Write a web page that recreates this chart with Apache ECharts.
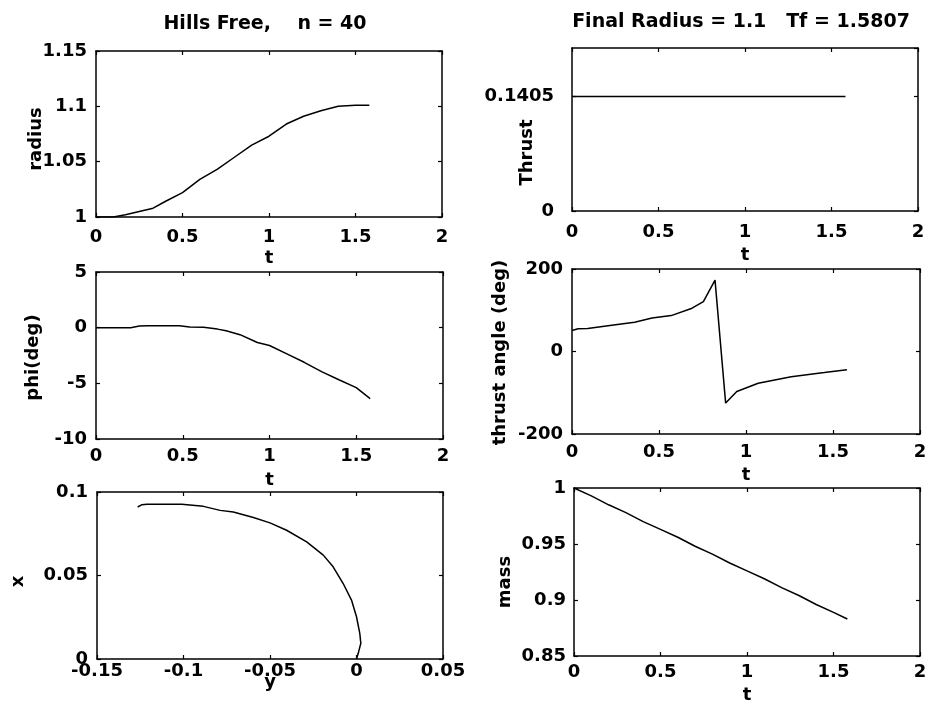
<!DOCTYPE html>
<html><head><meta charset="utf-8">
<script src="https://cdn.jsdelivr.net/npm/echarts@6/dist/echarts.min.js"></script>
<style>html,body{margin:0;padding:0;background:#fff}#c{width:930px;height:713px}</style>
</head><body><div id="c"></div>
<script>
// ---- data ----
const radiusT = [0, 0.1, 0.17, 0.25, 0.33, 0.4, 0.5, 0.6, 0.7, 0.8, 0.9, 1.0, 1.1, 1.2, 1.3, 1.4, 1.5, 1.58];
const radiusVals = [1.000, 1.000, 1.002, 1.005, 1.008, 1.014, 1.022, 1.034, 1.043, 1.054, 1.065, 1.073, 1.084, 1.091, 1.096, 1.100, 1.101, 1.101];

const thrustT = [0, 1.5807];
const thrustVals = [0.1405, 0.1405];

const phiT = [0, 0.2, 0.25, 0.3, 0.4, 0.48, 0.54, 0.62, 0.7, 0.75, 0.83, 0.93, 1.0, 1.1, 1.2, 1.3, 1.4, 1.5, 1.58];
const phiVals = [0, 0, 0.15, 0.18, 0.18, 0.18, 0.05, 0.03, -0.13, -0.28, -0.63, -1.33, -1.6, -2.35, -3.11, -3.95, -4.68, -5.39, -6.38];

const angleT = [0, 0.035, 0.09, 0.25, 0.36, 0.46, 0.57, 0.69, 0.755, 0.822, 0.883, 0.947, 1.07, 1.26, 1.45, 1.58];
const angleVals = [51, 55, 56, 65, 71, 81, 87, 105, 121, 173, -125, -97, -77, -61, -51, -44];

const orbitY = [0.0, 0.001, 0.0025, 0.0019, 0.0, -0.0029, -0.0077, -0.0135, -0.0192, -0.0288, -0.0404, -0.05, -0.0596, -0.0712, -0.0788, -0.0885, -0.101, -0.1212, -0.124, -0.1265];
const orbitX = [0.0, 0.0034, 0.0094, 0.0153, 0.0253, 0.0353, 0.0452, 0.0552, 0.0622, 0.0701, 0.0771, 0.0815, 0.0847, 0.088, 0.089, 0.0914, 0.0926, 0.0926, 0.0924, 0.0910];

const massT = [0, 0.1, 0.2, 0.3, 0.4, 0.5, 0.6, 0.7, 0.8, 0.9, 1.0, 1.1, 1.2, 1.3, 1.4, 1.5, 1.58];
const massVals = [1.000, 0.993, 0.985, 0.978, 0.970, 0.963, 0.956, 0.948, 0.941, 0.933, 0.926, 0.919, 0.911, 0.904, 0.896, 0.889, 0.883];

const titleLeft = 'Hills Free,    n = 40';
const titleRight = 'Final Radius = 1.1   Tf = 1.5807';

// ---- layout ----
const FONT = 'DejaVu Sans';
const grids = [
  {left: 96, top: 51, width: 346, height: 166},
  {left: 572, top: 48, width: 346, height: 163},
  {left: 96, top: 272, width: 347, height: 167},
  {left: 572, top: 269, width: 348, height: 165},
  {left: 97, top: 492, width: 346, height: 167},
  {left: 574, top: 488, width: 346, height: 168}
];
const xSpecs = [
  {min: 0, max: 2, interval: 0.5, name: 't', margin: 11, gap: 32},
  {min: 0, max: 2, interval: 0.5, name: 't', margin: 12, gap: 35},
  {min: 0, max: 2, interval: 0.5, name: 't', margin: 8, gap: 32},
  {min: 0, max: 2, interval: 0.5, name: 't', margin: 9, gap: 32},
  {min: -0.15, max: 0.05, interval: 0.05, name: 'y', margin: 3, gap: 14},
  {min: 0, max: 2, interval: 0.5, name: 't', margin: 7, gap: 30}
];
const ySpecs = [
  {min: 1, max: 1.15, interval: 0.05, name: 'radius', gap: 51, margin: 9, shift: 10},
  {min: 0, max: 0.2, interval: 0.1405, name: 'Thrust', gap: 36, margin: 18, shift: 46, hideMax: true},
  {min: -10, max: 5, interval: 5, name: 'phi(deg)', gap: 54, margin: 9, shift: 4},
  {min: -200, max: 200, interval: 200, name: 'thrust angle (deg)', gap: 63, margin: 9, shift: 2},
  {min: 0, max: 0.1, interval: 0.05, name: 'x', gap: 70, margin: 9, shift: 12},
  {min: 0.85, max: 1, interval: 0.05, name: 'mass', gap: 60, margin: 8, shift: 20}
];
const seriesData = [
  radiusT.map((t, i) => [t, radiusVals[i]]),
  thrustT.map((t, i) => [t, thrustVals[i]]),
  phiT.map((t, i) => [t, phiVals[i]]),
  angleT.map((t, i) => [t, angleVals[i]]),
  orbitY.map((y, i) => [y, orbitX[i]]),
  massT.map((t, i) => [t, massVals[i]])
];

const lbl = {color: '#000', fontFamily: FONT, fontWeight: 'bold', fontSize: 18};
const nameStyle = {color: '#000', fontFamily: FONT, fontWeight: 'bold', fontSize: 18};
const line = {show: true, onZero: false, lineStyle: {color: '#000', width: 1.5}};
const tick = {show: true, inside: true, length: 4, lineStyle: {color: '#000', width: 1.2}};

const xAxis = [], yAxis = [], series = [];
grids.forEach((g, i) => {
  const xs = xSpecs[i], ys = ySpecs[i];
  xAxis.push({
    type: 'value', gridIndex: i, position: 'bottom', min: xs.min, max: xs.max, interval: xs.interval,
    axisLine: line, axisTick: tick, splitLine: {show: false},
    axisLabel: Object.assign({margin: xs.margin}, lbl),
    name: xs.name, nameLocation: 'middle', nameGap: xs.gap, nameMoveOverlap: false,
    nameTextStyle: nameStyle
  });
  xAxis.push({
    type: 'value', gridIndex: i, position: 'top', min: xs.min, max: xs.max, interval: xs.interval,
    axisLine: line, axisTick: tick, splitLine: {show: false}, axisLabel: {show: false}
  });
  yAxis.push({
    type: 'value', gridIndex: i, position: 'left', min: ys.min, max: ys.max, interval: ys.interval,
    axisLine: line, axisTick: tick, splitLine: {show: false},
    axisLabel: Object.assign({margin: ys.margin, showMaxLabel: ys.hideMax ? false : true}, lbl),
    name: ys.name, nameLocation: 'middle', nameGap: ys.gap, nameMoveOverlap: false,
    nameTextStyle: Object.assign({padding: [0, ys.shift, 0, 0]}, nameStyle)
  });
  yAxis.push({
    type: 'value', gridIndex: i, position: 'right', min: ys.min, max: ys.max, interval: ys.interval,
    axisLine: line, axisTick: tick, splitLine: {show: false}, axisLabel: {show: false}
  });
  series.push({
    type: 'line', xAxisIndex: 2 * i, yAxisIndex: 2 * i, data: seriesData[i],
    showSymbol: false, symbol: 'none', smooth: false, animation: false,
    lineStyle: {color: '#000', width: 1.5}
  });
});

const chart = echarts.init(document.getElementById('c'), null, {renderer: 'canvas'});
chart.setOption({
  backgroundColor: '#fff',
  animation: false,
  grid: grids.map(g => Object.assign({containLabel: false}, g)),
  xAxis, yAxis, series,
  graphic: [
    {type: 'text', x: 265, y: 24, style: {text: titleLeft, align: 'center', verticalAlign: 'middle', fill: '#000', font: 'bold 19px "DejaVu Sans"'}},
    {type: 'text', x: 741, y: 22, style: {text: titleRight, align: 'center', verticalAlign: 'middle', fill: '#000', font: 'bold 19px "DejaVu Sans"'}}
  ]
});
</script>
</body></html>
